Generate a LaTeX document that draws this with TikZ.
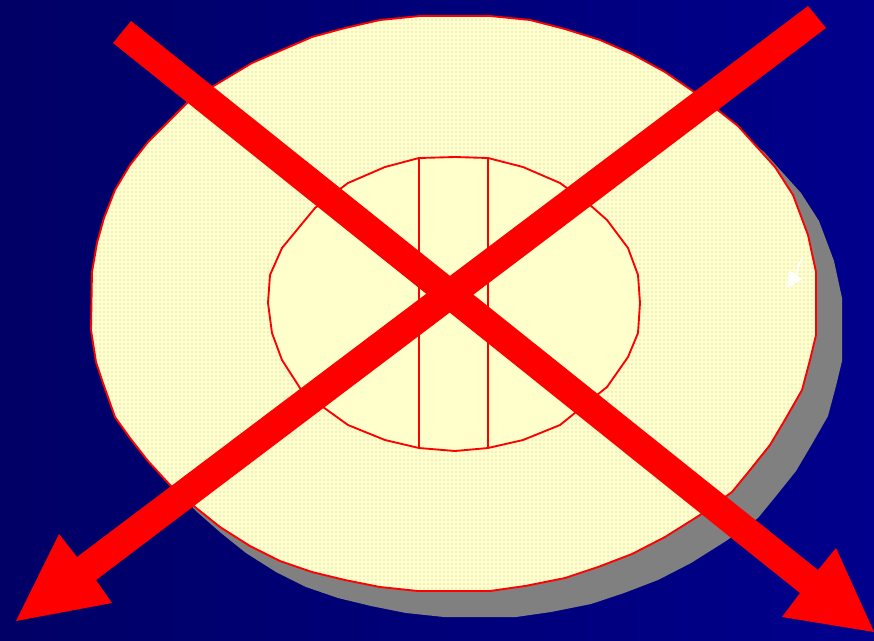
\documentclass[tikz,border=0pt]{standalone}
\usetikzlibrary{patterns}
\definecolor{bgleft}{RGB}{0,0,102}
\definecolor{bgright}{RGB}{0,0,140}
\definecolor{cream}{RGB}{255,255,204}
\definecolor{dotc}{RGB}{190,190,175}
\definecolor{shadowgray}{RGB}{128,128,128}
\definecolor{xred}{RGB}{255,0,0}
\tikzset{
  outline/.style={draw=xred, line width=1.4pt, line join=round},
  thinred/.style={draw=xred, line width=1.1pt},
  bigarrow/.style={fill=xred, draw=none},
}
\begin{document}
\begin{tikzpicture}[x=0.75pt,y=-0.75pt]
\useasboundingbox (0,0) rectangle (874,640);
\shade[left color=bgleft, right color=bgright] (0,0) rectangle (874,640);
\def\outerpoly{(380,20)--(420,16)--(490,16)--(530,20)--(565,29)--(600,40)--(632,54)--(665,72)--(700,96)--(738,126)--(775,167)--(793,195)--(808,235)--(816,272)--(816,335)--(810,360)--(802,390)--(786,418)--(770,445)--(750,470)--(732,492)--(700,515)--(665,537)--(632,554)--(598,567)--(565,578)--(525,586)--(490,591)--(418,591)--(380,587)--(345,580)--(312,572)--(280,561)--(250,546)--(220,527)--(195,507)--(170,485)--(148,461)--(130,438)--(115,417)--(103,383)--(96,362)--(91,330)--(92,272)--(97,243)--(104,218)--(115,190)--(130,165)--(148,142)--(170,120)--(190,100)--(212,87)--(252,63)--(282,50)--(312,37)--(345,28)--cycle}
% shadow
\begin{scope}[shift={(26,26)}]
\fill[shadowgray] \outerpoly;
\end{scope}
% outer disk
\fill[cream] \outerpoly;
\fill[pattern=dots, pattern color=dotc] \outerpoly;
\draw[outline] \outerpoly;
% inner disk
\path[fill=cream, outline] (419,158)--(455,157)--(488,158)--(523,167)--(560,183)--(590,205)--(607,220)--(628,248)--(638,275)--(640,303)--(638,333)--(628,357)--(607,387)--(560,425)--(523,440)--(488,448)--(455,451)--(419,448)--(385,440)--(348,425)--(323,407)--(300,388)--(282,360)--(272,333)--(268,303)--(270,275)--(282,248)--(315,208)--(348,183)--(385,167)--cycle;
\coordinate (l1t) at (419,158); \coordinate (l1b) at (419,448);
\coordinate (l2t) at (488,158); \coordinate (l2b) at (488,448);
\draw[thinred] (l1t) -- (l1b);
\draw[thinred] (l2t) -- (l2b);
% small white pointer
\draw[white, line width=1.2pt] (802,258) -- (795,276);
\fill[white] (787,288) -- (789,270) -- (802,279) -- cycle;
% red arrows
\fill[bigarrow] (113,43) -- (131,21) -- (818,570) -- (836,548) -- (874,632) -- (782,617) -- (800,593) -- cycle;
\fill[bigarrow] (808,6) -- (826,28) -- (96,580) -- (112,603) -- (16,621) -- (59,534) -- (77,557) -- cycle;
\end{tikzpicture}
\end{document}
